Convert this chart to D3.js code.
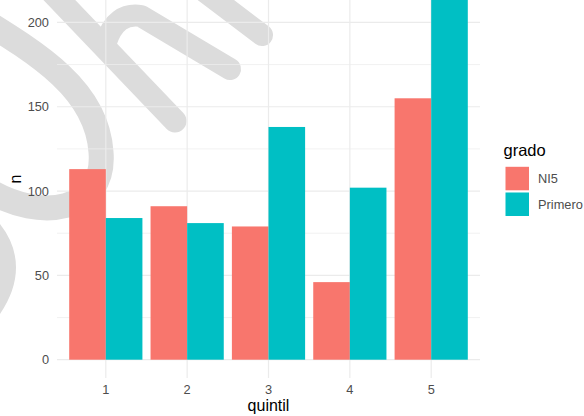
<!DOCTYPE html>
<html>
<head>
<meta charset="utf-8">
<script src="https://cdn.jsdelivr.net/npm/d3@7"></script>
<style>
  html, body { margin: 0; padding: 0; background: #fff; }
  svg { display: block; font-family: "Liberation Sans", Arial, sans-serif; }
</style>
</head>
<body>
<svg id="chart" width="584" height="416"></svg>
<script>
// ---- data ----
const quintil = ["1", "2", "3", "4", "5"];
const grado = ["NI5", "Primero"];
const ni5 = [113, 91, 79, 46, 155];
const primero = [84, 81, 138, 102, 218];
const yTicks = [0, 50, 100, 150, 200];
const yMinor = [25, 75, 125, 175, 225];
const fillColors = ["#F8766D", "#00BFC4"];

const rows = quintil.map((q, i) => ({ q, values: [ni5[i], primero[i]] }));

const svg = d3.select("#chart");

// panel geometry
const panelLeft = 57, panelRight = 480;
const maxV = d3.max([...ni5, ...primero]);
const y = d3.scaleLinear().domain([0, 200]).range([359.7, 22.4]);
const panelBottom = y(-0.05 * maxV);
const panelTop = y(1.05 * maxV);

const x = d3.scaleBand().domain(quintil).range([panelLeft, panelRight])
  .paddingInner(0.1).paddingOuter(0.15);
const xSub = d3.scaleBand().domain(grado).range([0, x.bandwidth()]);
const color = d3.scaleOrdinal().domain(grado).range(fillColors);

// ---- watermark (background decoration) ----
const wm = svg.append("g")
  .attr("fill", "none")
  .attr("stroke", "#DCDCDC")
  .attr("stroke-linecap", "round")
  .attr("stroke-linejoin", "round");
wm.append("path").attr("stroke-width", 25)
  .attr("d", "M -25,15 C 40,55 97,90 101,152 C 106,212 40,222 -12,190");
wm.append("path").attr("stroke-width", 24)
  .attr("d", "M -18,222 Q 26,265 -18,318");
wm.append("path").attr("stroke-width", 23)
  .attr("d", "M 45,-15 L 175,121");
wm.append("path").attr("stroke-width", 22)
  .attr("d", "M 106,42 Q 116,12 141,16 L 230,69");
wm.append("path").attr("stroke-width", 22)
  .attr("d", "M 200,-12 L 262,35");

// ---- grid ----
const grid = svg.append("g");
grid.selectAll("line.minor").data(yMinor).join("line")
  .attr("x1", panelLeft).attr("x2", panelRight)
  .attr("y1", d => y(d)).attr("y2", d => y(d))
  .attr("stroke", "#EEEEEE").attr("stroke-width", 0.8);
grid.selectAll("line.major").data(yTicks).join("line")
  .attr("x1", panelLeft).attr("x2", panelRight)
  .attr("y1", d => y(d)).attr("y2", d => y(d))
  .attr("stroke", "#EBEBEB").attr("stroke-width", 1.2);
grid.selectAll("line.vmajor").data(quintil).join("line")
  .attr("x1", d => x(d) + x.bandwidth() / 2).attr("x2", d => x(d) + x.bandwidth() / 2)
  .attr("y1", panelTop).attr("y2", panelBottom)
  .attr("stroke", "#EBEBEB").attr("stroke-width", 1.2);

// ---- bars ----
const groups = svg.append("g").selectAll("g").data(rows).join("g")
  .attr("transform", d => `translate(${x(d.q)},0)`);
groups.selectAll("rect")
  .data(d => grado.map((g, k) => ({ g, v: d.values[k] })))
  .join("rect")
  .attr("x", d => xSub(d.g))
  .attr("width", xSub.bandwidth())
  .attr("y", d => y(d.v))
  .attr("height", d => y(0) - y(d.v))
  .attr("fill", d => color(d.g));

// ---- axes ----
const yAxis = d3.axisLeft(y).tickValues(yTicks).tickSize(0).tickPadding(0);
const gy = svg.append("g").attr("transform", `translate(49,0)`).call(yAxis);
gy.select(".domain").remove();
gy.selectAll("text").attr("font-size", 12.8).attr("fill", "#4D4D4D")
  .attr("font-family", "Liberation Sans, Arial, sans-serif");

const xAxis = d3.axisBottom(x).tickSize(0).tickPadding(0);
const gx = svg.append("g").attr("transform", `translate(0,385)`).call(xAxis);
gx.select(".domain").remove();
gx.selectAll("text").attr("font-size", 12.8).attr("fill", "#4D4D4D")
  .attr("font-family", "Liberation Sans, Arial, sans-serif");

// axis titles
svg.append("text").attr("x", (panelLeft + panelRight) / 2).attr("y", 410.5)
  .attr("text-anchor", "middle").attr("font-size", 16).attr("fill", "#000")
  .text("quintil");
svg.append("text").attr("transform", "translate(20.5,179) rotate(-90)")
  .attr("text-anchor", "middle").attr("font-size", 16).attr("fill", "#000")
  .text("n");

// ---- legend ----
const lg = svg.append("g");
lg.append("text").attr("x", 503.5).attr("y", 156).attr("font-size", 16.5)
  .attr("fill", "#000").text("grado");
const items = lg.selectAll("g.item").data(grado).join("g")
  .attr("transform", (d, i) => `translate(505.5,${166.8 + i * 25.7})`);
items.append("rect").attr("width", 23.5).attr("height", 23.5)
  .attr("fill", d => color(d));
items.append("text").attr("x", 32.5).attr("y", 11.75).attr("dy", "0.35em")
  .attr("font-size", 12.8).attr("fill", "#4D4D4D").text(d => d);
</script>
</body>
</html>
